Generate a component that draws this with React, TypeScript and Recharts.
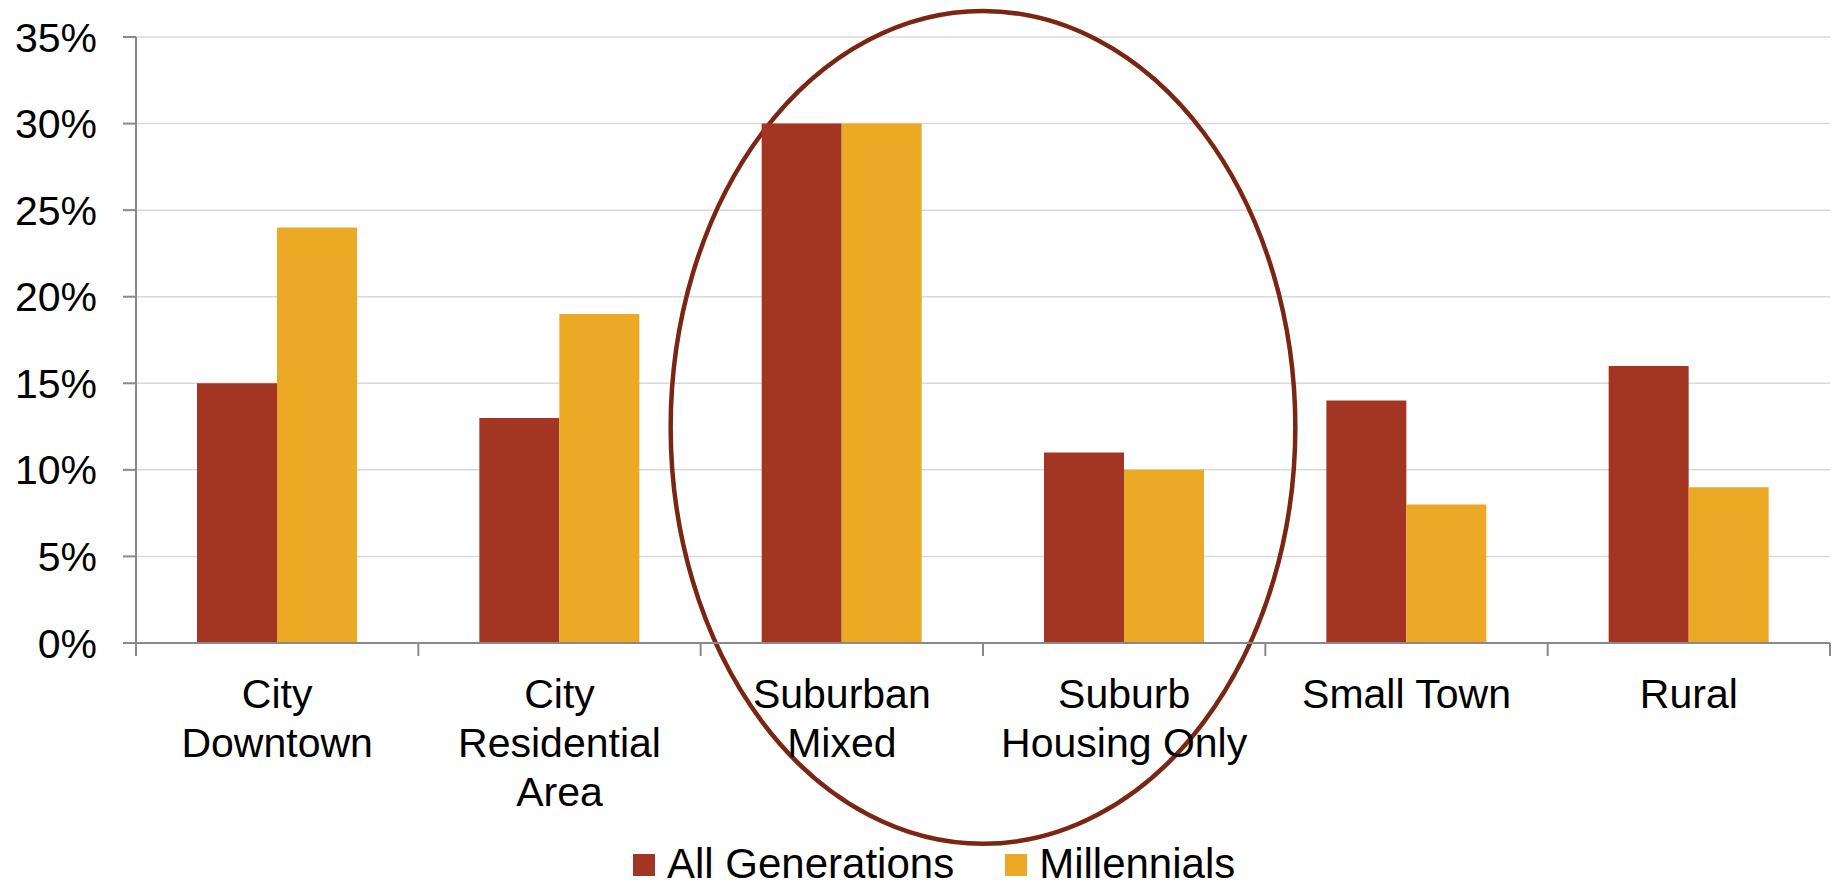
import React from 'react';
import {
  BarChart, Bar, XAxis, YAxis, CartesianGrid, ReferenceArea,
} from 'recharts';

const CATEGORIES = ['City Downtown', 'City Residential Area', 'Suburban Mixed', 'Suburb Housing Only', 'Small Town', 'Rural'];
const TICK_LINES = [
  ['City', 'Downtown'],
  ['City', 'Residential', 'Area'],
  ['Suburban', 'Mixed'],
  ['Suburb', 'Housing Only'],
  ['Small Town'],
  ['Rural'],
];
const ALL_GENERATIONS = [15, 13, 30, 11, 14, 16];
const MILLENNIALS = [24, 19, 30, 10, 8, 9];
const Y_TICKS = [0, 5, 10, 15, 20, 25, 30, 35];

// circled region, in data units (categories + percent)
const HIGHLIGHT = { from: 'Suburban Mixed', to: 'Suburb Housing Only', top: 36.5, bottom: -11.6 };

const RED = '#A33622';
const ORANGE = '#EBA926';
const AXIS = '#898989';
const FONT = '"Liberation Sans", Arial, sans-serif';

const W = 1837;
const H = 884;
const MARGIN = { top: 37, right: 7, left: 0, bottom: 41 };
const Y_AXIS_W = 136;
const X_AXIS_H = 200;
const PLOT_W = W - MARGIN.left - MARGIN.right - Y_AXIS_W;

const data = CATEGORIES.map((name, i) => ({
  name,
  all: ALL_GENERATIONS[i],
  mill: MILLENNIALS[i],
}));

const CategoryTick = (props: any) => {
  const { x, y, index } = props;
  const band = PLOT_W / CATEGORIES.length;
  const lines = TICK_LINES[index] ?? [props.payload?.value];
  return (
    <g>
      <line x1={x - band / 2} x2={x - band / 2} y1={y} y2={y + 13} stroke={AXIS} strokeWidth={2} />
      {index === CATEGORIES.length - 1 && (
        <line x1={x + band / 2} x2={x + band / 2} y1={y} y2={y + 13} stroke={AXIS} strokeWidth={2} />
      )}
      <text textAnchor="middle" fontSize={41} fontFamily={FONT} fill="#000">
        {lines.map((l: string, i: number) => (
          <tspan key={i} x={x} y={y + 65 + i * 49}>{l}</tspan>
        ))}
      </text>
    </g>
  );
};

const Ellipse = (props: any) => {
  const { x, y, width, height } = props;
  return (
    <ellipse
      cx={x + width / 2}
      cy={y + height / 2}
      rx={width / 2 + 30}
      ry={height / 2}
      fill="none"
      stroke="#7A2614"
      strokeWidth={4.5}
    />
  );
};

export default function App() {
  return (
    <div style={{ position: 'absolute', left: 0, top: 0, width: W, height: H, background: '#fff', overflow: 'hidden' }}>
      <BarChart width={W} height={H} data={data} margin={MARGIN} barSize={80} barGap={0}>
        <CartesianGrid vertical={false} stroke="#d9d9d9" strokeWidth={1.5} />
        <XAxis
          dataKey="name"
          height={X_AXIS_H}
          interval={0}
          tickSize={0}
          tickMargin={0}
          tickLine={false}
          axisLine={{ stroke: AXIS, strokeWidth: 2 }}
          tick={<CategoryTick />}
        />
        <YAxis
          width={Y_AXIS_W}
          domain={[0, 35]}
          ticks={Y_TICKS}
          interval={0}
          tickFormatter={(v: number) => `${v}%`}
          tickSize={13}
          tickMargin={26}
          tickLine={{ stroke: AXIS, strokeWidth: 2 }}
          axisLine={{ stroke: AXIS, strokeWidth: 2 }}
          tick={{ fontSize: 41, fontFamily: FONT, fill: '#000' }}
        />
        <Bar dataKey="all" name="All Generations" fill={RED} isAnimationActive={false} />
        <Bar dataKey="mill" name="Millennials" fill={ORANGE} isAnimationActive={false} />
        <ReferenceArea
          x1={HIGHLIGHT.from}
          x2={HIGHLIGHT.to}
          y1={HIGHLIGHT.top}
          y2={HIGHLIGHT.bottom}
          ifOverflow="visible"
          shape={<Ellipse />}
        />
      </BarChart>
      {/* legend */}
      <div style={{ position: 'absolute', left: 633, top: 844, display: 'flex', fontFamily: FONT, fontSize: 42, lineHeight: '40px', color: '#000' }}>
        {[{ label: 'All Generations', color: RED }, { label: 'Millennials', color: ORANGE }].map((item, i) => (
          <div key={i} style={{ display: 'flex', marginRight: i === 0 ? 51 : 0 }}>
            <div style={{ width: 22, height: 22, background: item.color, marginTop: 10, marginRight: 12 }} />
            <span style={{ whiteSpace: 'nowrap' }}>{item.label}</span>
          </div>
        ))}
      </div>
    </div>
  );
}
